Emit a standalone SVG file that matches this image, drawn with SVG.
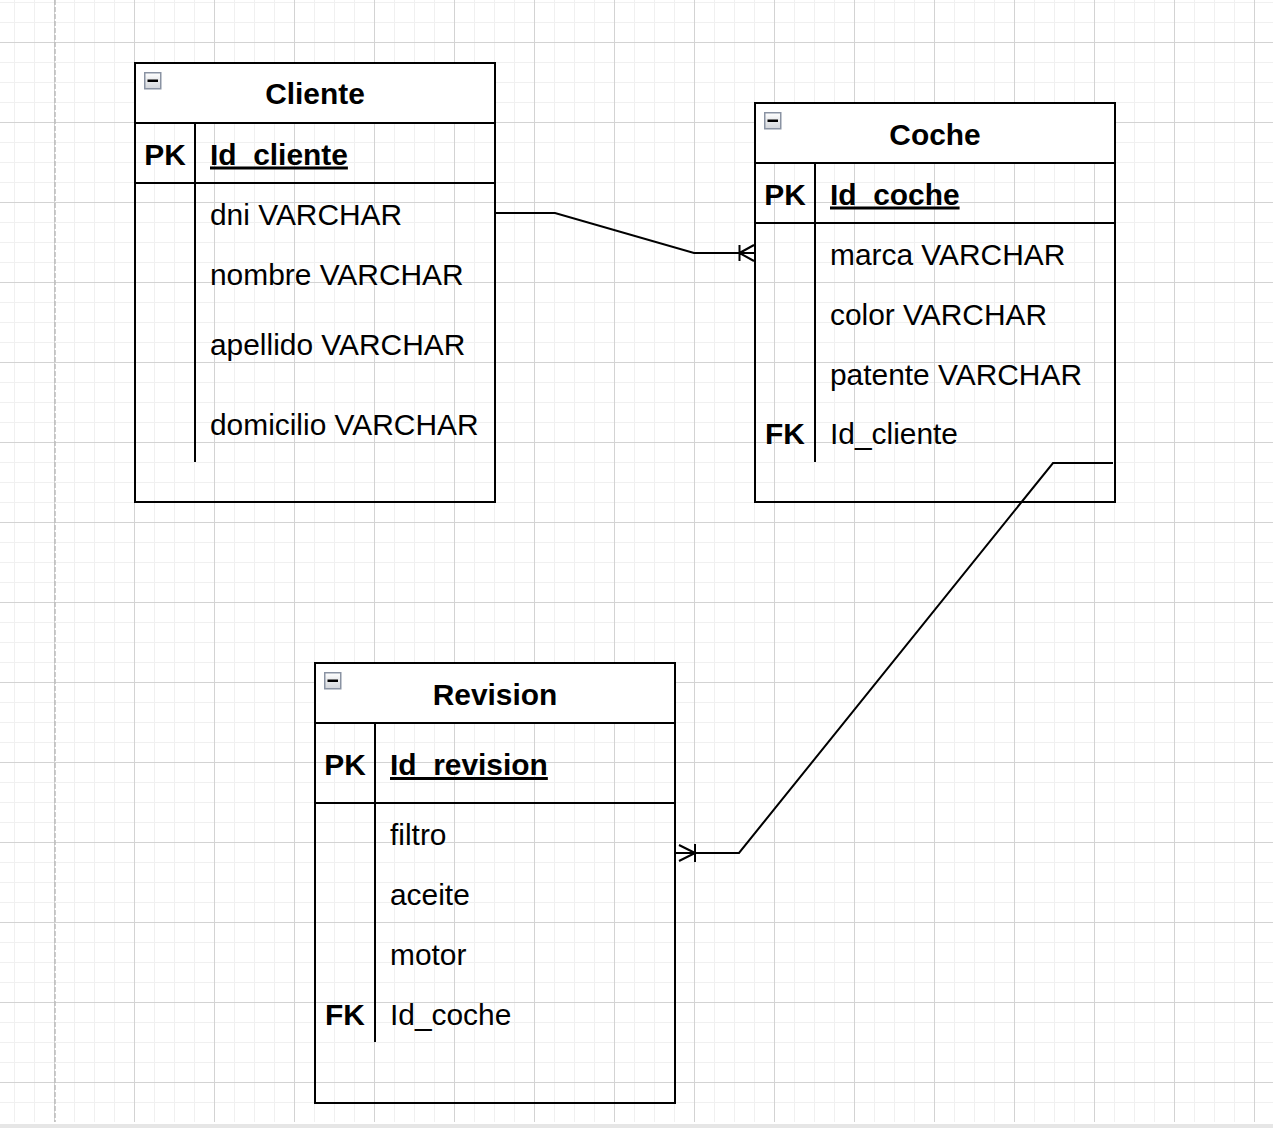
<svg xmlns="http://www.w3.org/2000/svg" width="1273" height="1128" viewBox="0 0 1273 1128">
<style>
  text { font-family: "Liberation Sans", Arial, Helvetica, sans-serif; font-size: 29.9px; fill: #000; }
  .title { font-weight: bold; text-anchor: middle; }
  .key { font-weight: bold; text-anchor: middle; }
  .pk { font-weight: bold; text-decoration: underline; }
  .box { fill: none; stroke: #000; stroke-width: 2; }
  .head { fill: #fff; stroke: #000; stroke-width: 2; }
  .sep { stroke: #000; stroke-width: 2; fill: none; }
  .edge { fill: none; stroke: #000; stroke-width: 2; stroke-linejoin: miter; }
  .minorg { stroke: #f0f0f0; stroke-width: 1; }
  .majorg { stroke: #d3d3d3; stroke-width: 1; }
  .icon { fill: url(#iconGrad); stroke: #8a93a3; stroke-width: 1.5; }
</style>
<defs>
  <pattern id="grid" patternUnits="userSpaceOnUse" x="54" y="42" width="80" height="80">
    <line class="minorg" x1="20.5" y1="0" x2="20.5" y2="80"/>
    <line class="minorg" x1="40.5" y1="0" x2="40.5" y2="80"/>
    <line class="minorg" x1="60.5" y1="0" x2="60.5" y2="80"/>
    <line class="minorg" x1="0" y1="20.5" x2="80" y2="20.5"/>
    <line class="minorg" x1="0" y1="40.5" x2="80" y2="40.5"/>
    <line class="minorg" x1="0" y1="60.5" x2="80" y2="60.5"/>
    <line class="majorg" x1="0.5" y1="0" x2="0.5" y2="80"/>
    <line class="majorg" x1="0" y1="0.5" x2="80" y2="0.5"/>
  </pattern>
  <linearGradient id="iconGrad" x1="0" y1="0" x2="0" y2="1">
    <stop offset="0" stop-color="#ffffff"/>
    <stop offset="1" stop-color="#d2d5da"/>
  </linearGradient>
  <g id="collapse">
    <rect class="icon" x="0.75" y="0.75" width="16" height="16"/>
    <rect x="3.5" y="7.5" width="10.5" height="2.5" fill="#000"/>
  </g>
</defs>

<rect x="0" y="0" width="1273" height="1128" fill="#fff"/>
<rect x="0" y="0" width="1273" height="1122" fill="url(#grid)"/>
<rect x="0" y="1124" width="1273" height="4" fill="#e6e6e6"/>
<line x1="55" y1="0" x2="55" y2="1122" stroke="#bdbdbd" stroke-width="1.5" stroke-dasharray="5 2"/>

<g id="connectors">
  <path class="edge" d="M495,213 L555,213 L694,253 L755,253"/>
  <path class="edge" d="M739.5,245 L739.5,261 M739.5,253 L754,245 M739.5,253 L754,261"/>
  <path class="edge" d="M1113,463 L1053,463 L739,853 L675,853"/>
  <path class="edge" d="M695,844 L695,862 M695,853 L679,845 M695,853 L679,861"/>
</g>

<g id="cliente">
  <rect class="head" x="135" y="63" width="360" height="60"/>
  <rect class="box" x="135" y="63" width="360" height="439"/>
  <line class="sep" x1="135" y1="183" x2="495" y2="183"/>
  <line class="sep" x1="195" y1="123" x2="195" y2="462"/>
  <use href="#collapse" x="144" y="72"/>
  <text class="title" x="315" y="104">Cliente</text>
  <text class="key" x="165" y="164.5">PK</text>
  <text class="pk" x="210" y="164.5">Id_cliente</text>
  <text x="210" y="225">dni VARCHAR</text>
  <text x="210" y="285">nombre VARCHAR</text>
  <text x="210" y="355">apellido VARCHAR</text>
  <text x="210" y="435">domicilio VARCHAR</text>
</g>

<g id="coche">
  <rect class="head" x="755" y="103" width="360" height="60"/>
  <rect class="box" x="755" y="103" width="360" height="399"/>
  <line class="sep" x1="755" y1="223" x2="1115" y2="223"/>
  <line class="sep" x1="815" y1="163" x2="815" y2="462"/>
  <use href="#collapse" x="764" y="112"/>
  <text class="title" x="935" y="144.5">Coche</text>
  <text class="key" x="785" y="204.5">PK</text>
  <text class="pk" x="830" y="204.5">Id_coche</text>
  <text x="830" y="264.5">marca VARCHAR</text>
  <text x="830" y="324.5">color VARCHAR</text>
  <text x="830" y="384.5">patente VARCHAR</text>
  <text class="key" x="785" y="444">FK</text>
  <text x="830" y="444">Id_cliente</text>
</g>

<g id="revision">
  <rect class="head" x="315" y="663" width="360" height="60"/>
  <rect class="box" x="315" y="663" width="360" height="440"/>
  <line class="sep" x1="315" y1="803" x2="675" y2="803"/>
  <line class="sep" x1="375" y1="723" x2="375" y2="1042"/>
  <use href="#collapse" x="324" y="672"/>
  <text class="title" x="495" y="704.5">Revision</text>
  <text class="key" x="345" y="775">PK</text>
  <text class="pk" x="390" y="775">Id_revision</text>
  <text x="390" y="844.5">filtro</text>
  <text x="390" y="904.5">aceite</text>
  <text x="390" y="964.5">motor</text>
  <text class="key" x="345" y="1024.5">FK</text>
  <text x="390" y="1024.5">Id_coche</text>
</g>
</svg>
